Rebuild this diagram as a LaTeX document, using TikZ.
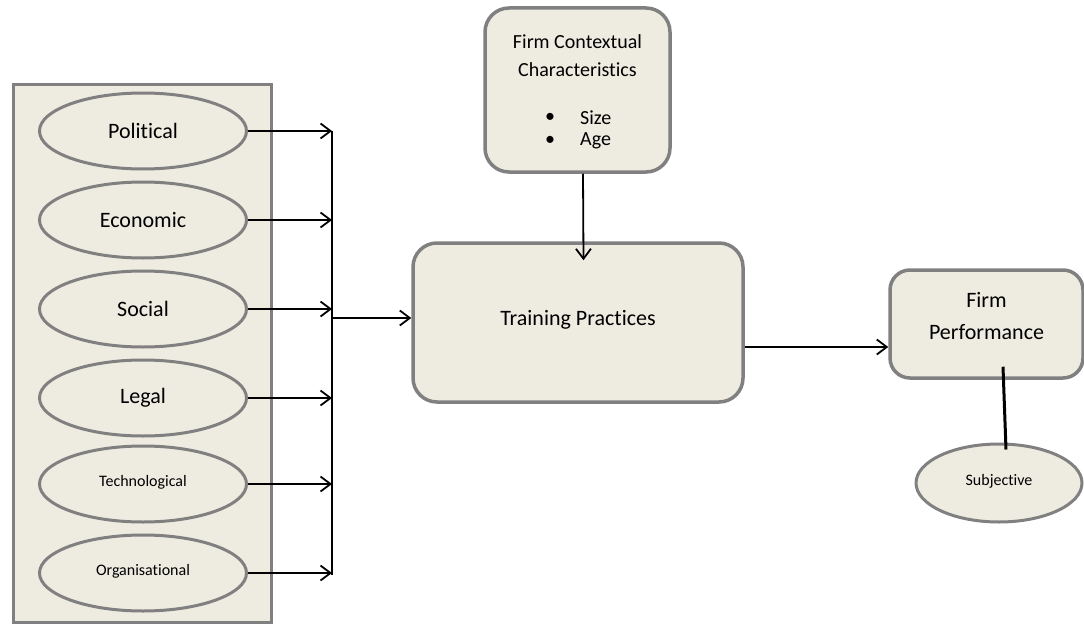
\documentclass[tikz,border=0pt]{standalone}
\usepackage{fontspec}
\setmainfont{Carlito}[RawFeature={-liga;-calt;-clig}]
\usetikzlibrary{arrows.meta,shapes.geometric,calc}
\definecolor{boxfill}{HTML}{EEECE1}
\definecolor{boxline}{HTML}{808080}
\begin{document}
\begin{tikzpicture}[x=1pt,y=-1pt,
  panel/.style={rectangle, draw=boxline, fill=boxfill, line width=3pt, minimum width=258pt, minimum height=538pt, inner sep=0pt},
  factor/.style={ellipse, draw=boxline, fill=boxfill, line width=3pt, minimum width=207pt, minimum height=76pt, inner sep=0pt, font=\fontsize{22}{26}\selectfont},
  smallfactor/.style={factor, font=\fontsize{16}{19}\selectfont},
  roundbox/.style={rectangle, rounded corners=24pt, draw=boxline, fill=boxfill, line width=3.5pt, inner sep=0pt},
  txt/.style={inner sep=0pt, font=\fontsize{20}{24}\selectfont},
  bigtxt/.style={inner sep=0pt, font=\fontsize{22}{26}\selectfont},
  conn/.style={draw=black, line width=1.8pt, -{Straight Barb[length=10pt,width=15pt,line width=1.8pt]}},
  plain/.style={draw=black, line width=1.8pt},
  thickline/.style={draw=black, line width=3pt}
]
\useasboundingbox (0,0) rectangle (1084,626);

% left panel
\node[panel] (env) at (142.5,353) {};
\node[factor] (pol) at (143,131) {Political};
\node[factor] (eco) at (143,220) {Economic};
\node[factor] (soc) at (143,309) {Social};
\node[factor] (leg) at (143,398) {Legal};
\node[smallfactor] (tec) at (143,484) {\raisebox{6pt}{Technological}};
\node[smallfactor] (org) at (143,573) {\raisebox{6pt}{Organisational}};

% bus
\coordinate (busTop) at (332,131);
\coordinate (busBot) at (332,575);
\coordinate (busMid) at (332,318);
\draw[plain] (busTop) -- (busBot);
\foreach \n in {pol,eco,soc,leg,tec,org}{
  \draw[conn] (\n.east) -- (\n.east -| busTop);
}

% training practices
\node[roundbox, minimum width=330pt, minimum height=159pt, font=\fontsize{22}{26}\selectfont] (tp) at (578,322.5) {\raisebox{9pt}{Training Practices}};
\draw[conn] (busMid) -- (busMid -| tp.west);

% firm contextual characteristics
\node[roundbox, minimum width=185pt, minimum height=164pt] (fc) at (577.5,90) {};
\node[txt] (fc1) at (577.5,42) {Firm Contextual};
\node[txt] (fc2) at (577.5,70) {Characteristics};
\node[txt] (b1) at (550,118) {\textbullet};
\node[txt] (b2) at (550,141) {\textbullet};
\node[txt, anchor=west] (s1) at (580,118) {Size};
\node[txt, anchor=west] (s2) at (580,141) {Age};
\draw[conn] ($(fc.south)+(5.5,0)$) -- ($(tp.north)+(5.5,19)$);

% firm performance
\node[roundbox, rounded corners=20pt, minimum width=193pt, minimum height=108pt] (fp) at (986.5,324) {};
\node[bigtxt] (fp1) at (986.5,300) {Firm};
\node[bigtxt] (fp2) at (986.5,332) {Performance};
\draw[conn] ($(tp.east)+(0,24.5)$) coordinate (tpo) -- (tpo -| fp.west);

% subjective
\node[factor, font=\fontsize{16}{19}\selectfont, minimum width=166pt, minimum height=78pt] (subj) at (999,483) {\raisebox{6pt}{Subjective}};
\draw[thickline] ($(fp.south)+(16.5,-13)$) -- ($(subj.north)+(7,7)$);
\end{tikzpicture}
\end{document}
